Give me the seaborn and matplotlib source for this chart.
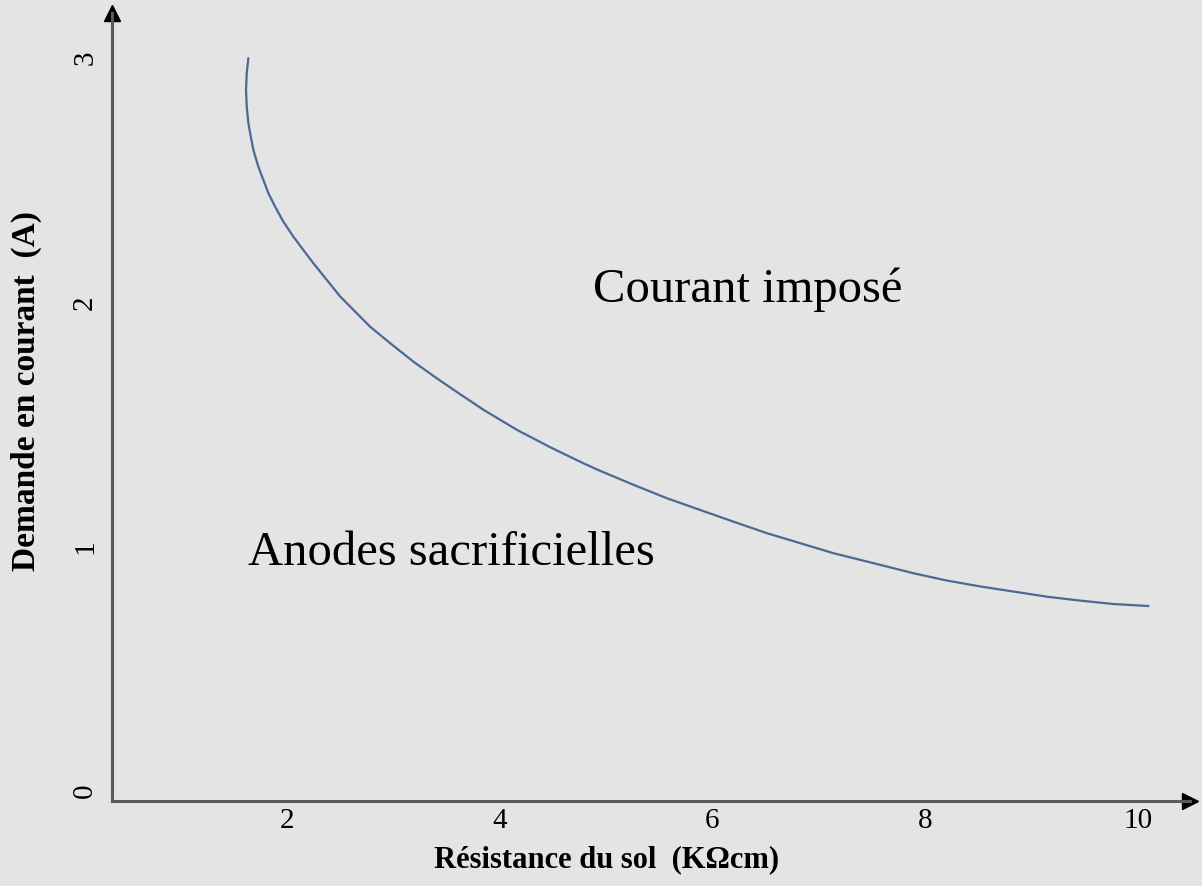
import numpy as np
import pandas as pd
import seaborn as sns
import matplotlib
matplotlib.use("Agg")
import matplotlib.pyplot as plt

# curve
resistance = [1.636, 1.621, 1.614, 1.621, 1.636, 1.659, 1.683, 1.730, 1.777, 1.824,
              1.887, 1.965, 2.059, 2.153, 2.247, 2.373, 2.499, 2.624, 2.781, 2.969,
              3.188, 3.408, 3.627, 3.847, 4.161, 4.474, 4.787, 4.945, 5.258, 5.572,
              5.885, 6.199, 6.513, 6.826, 7.139, 7.453, 7.892, 8.206, 8.519, 8.833,
              9.147, 9.460, 9.773, 10.10]
demande = [2.999, 2.938, 2.869, 2.801, 2.733, 2.678, 2.624, 2.555, 2.501, 2.447,
           2.392, 2.330, 2.269, 2.214, 2.160, 2.092, 2.024, 1.969, 1.900, 1.833,
           1.757, 1.689, 1.624, 1.560, 1.478, 1.407, 1.341, 1.310, 1.253, 1.198,
           1.150, 1.102, 1.055, 1.014, 0.973, 0.939, 0.891, 0.861, 0.837, 0.816,
           0.795, 0.779, 0.765, 0.757]
xticks = [2, 4, 6, 8, 10]
yticks = [0, 1, 2, 3]

df = pd.DataFrame({"x": resistance, "y": demande})

sns.set_style("white")
plt.rcParams["font.family"] = ["Liberation Serif", "DejaVu Serif"]
plt.rcParams["text.color"] = "black"
plt.rcParams["axes.labelcolor"] = "black"
plt.rcParams["xtick.color"] = "black"
plt.rcParams["ytick.color"] = "black"

bg = "#e4e4e4"
fig = plt.figure(figsize=(12.02, 8.86), dpi=100, facecolor=bg)
ax = fig.add_axes([112 / 1202, 1 - 801 / 886, (1190 - 112) / 1202, (801 - 13) / 886])
ax.set_facecolor(bg)

sns.lineplot(data=df, x="x", y="y", sort=False, estimator=None,
             color="#4a6a95", linewidth=1.6, ax=ax)

ax.set_xlim(0.354, 10.49)
ax.set_ylim(-0.041, 3.184)

for s in ["top", "right"]:
    ax.spines[s].set_visible(False)
for s in ["left", "bottom"]:
    ax.spines[s].set_color("#5a5a5a")
    ax.spines[s].set_linewidth(2.2)

# arrow heads
ax.plot(1, 0, ">", color="black", markersize=12, transform=ax.transAxes, clip_on=False)
ax.plot(0, 1, "^", color="black", markersize=12, transform=ax.transAxes, clip_on=False)

ax.set_xticks(xticks)
ax.set_yticks(yticks)
ax.tick_params(axis="both", length=0, labelsize=21)
ax.tick_params(axis="x", pad=5)
ax.tick_params(axis="y", pad=10)
for lab in ax.get_yticklabels():
    lab.set_rotation(90)
    lab.set_va("center")

ax.set_xlabel("Résistance du sol  (KΩcm)", fontsize=22, fontweight="bold")
ax.set_ylabel("Demande en courant  (A)", fontsize=24, fontweight="bold")
ax.xaxis.set_label_coords(0.459, -0.0558)
ax.yaxis.set_label_coords(-0.065, 0.520)

ax.text(1.633, 0.925, "Anodes sacrificielles", fontsize=35, ha="left", va="baseline")
ax.text(4.88, 2.00, "Courant imposé", fontsize=35, ha="left", va="baseline")

fig.savefig("out.png", dpi=100, facecolor=bg)
